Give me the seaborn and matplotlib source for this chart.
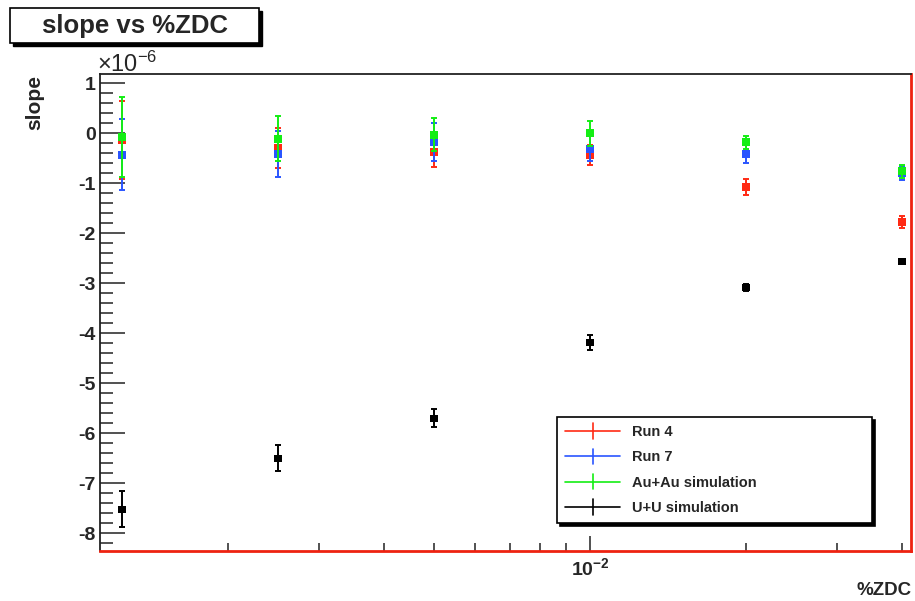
import matplotlib
matplotlib.use("Agg")
import numpy as np
import pandas as pd
import seaborn as sns
import matplotlib.pyplot as plt
from matplotlib.lines import Line2D
from matplotlib.legend_handler import HandlerBase
from matplotlib.patches import Rectangle
from matplotlib.ticker import (FixedLocator, FixedFormatter, LogLocator,
                               NullFormatter, MultipleLocator, FuncFormatter)

# ---------------- data (slope in units of 1e-6) ----------------
zdc = [0.00125, 0.0025, 0.005, 0.01, 0.02, 0.04]
series_names = ["Run 4", "Run 7", "Au+Au simulation", "U+U simulation"]
run4 = [-0.13, -0.30, -0.37, -0.43, -1.08, -1.78]
run4_err = [0.78, 0.40, 0.30, 0.20, 0.16, 0.12]
run7 = [-0.43, -0.42, -0.18, -0.31, -0.41, -0.80]
run7_err = [0.71, 0.46, 0.38, 0.25, 0.19, 0.13]
auau = [-0.07, -0.11, -0.03, 0.00, -0.18, -0.76]
auau_err = [0.80, 0.45, 0.33, 0.25, 0.13, 0.13]
uu = [-7.52, -6.50, -5.70, -4.18, -3.09, -2.56]
uu_err = [0.36, 0.26, 0.18, 0.15, 0.07, 0.05]
colors = ["#ff2a14", "#2a55ff", "#14ee14", "#000000"]
title_text = "slope vs %ZDC"
y_ticks = [-8, -7, -6, -5, -4, -3, -2, -1, 0, 1]
x_major = [0.01]
x_major_labels = ["10$^{-2}$"]

rows = []
for name, vals, errs in zip(series_names, [run4, run7, auau, uu],
                            [run4_err, run7_err, auau_err, uu_err]):
    for x, v, e in zip(zdc, vals, errs):
        rows.append({"series": name, "zdc": x, "slope": v, "err": e})
df = pd.DataFrame(rows)

# ---------------- style ----------------
sns.set_theme(style="white")
plt.rcParams["font.family"] = ["Liberation Sans", "DejaVu Sans"]
plt.rcParams["font.weight"] = "bold"
plt.rcParams["axes.unicode_minus"] = False
plt.rcParams["mathtext.default"] = "regular"

fig = plt.figure(figsize=(9.15, 6.01), dpi=100)
fig.patch.set_facecolor("white")
ax = fig.add_axes([0.1093, 0.0837, 0.8860, 0.7927])
ax.set_facecolor("white")

for i, (name, col) in enumerate(zip(series_names, colors)):
    sub = df[df["series"] == name]
    ax.errorbar(sub["zdc"], sub["slope"], yerr=sub["err"], fmt="none",
                ecolor=col, elinewidth=1.4, capsize=2, capthick=1.4,
                zorder=2 + i)
    sns.scatterplot(data=sub, x="zdc", y="slope", color=col, marker="s",
                    s=36 if i < 3 else 28, edgecolor="none", linewidth=0,
                    ax=ax, legend=False, zorder=2.5 + i)

ax.set_xscale("log")
ax.set_xlim(1.133e-3, 4.16e-2)
ax.set_ylim(-8.35, 1.18)

ax.xaxis.set_major_locator(FixedLocator(x_major))
ax.xaxis.set_major_formatter(FixedFormatter(x_major_labels))
ax.xaxis.set_minor_locator(LogLocator(base=10, subs=np.arange(2, 10)))
ax.xaxis.set_minor_formatter(NullFormatter())
ax.yaxis.set_major_locator(FixedLocator(y_ticks))
ax.yaxis.set_major_formatter(FuncFormatter(lambda v, p: "%d" % round(v)))
ax.yaxis.set_minor_locator(MultipleLocator(0.2))

ax.tick_params(axis="y", which="major", direction="in", length=18, width=1.2,
               labelsize=14, pad=3, color="#333333", left=True, right=False)
ax.tick_params(axis="y", which="minor", direction="in", length=9, width=1.2,
               color="#333333", left=True, right=False)
ax.tick_params(axis="x", which="major", direction="in", length=11, width=1.2,
               labelsize=14, pad=5, color="#333333", bottom=True, top=False)
ax.tick_params(axis="x", which="minor", direction="in", length=6, width=1.2,
               color="#333333", bottom=True, top=False)

for s in ["top", "left"]:
    ax.spines[s].set_color("#222222")
    ax.spines[s].set_linewidth(1.3)
for s in ["right", "bottom"]:
    ax.spines[s].set_color("#ee2211")
    ax.spines[s].set_linewidth(2.0)
    ax.spines[s].set_visible(True)

ax.set_ylabel("slope", fontsize=15, fontweight="bold")
ax.yaxis.set_label_coords(-0.0802, 0.9398)
ax.yaxis.label.set_va("center")
ax.yaxis.label.set_ha("center")
ax.set_xlabel("%ZDC", fontsize=13.5, fontweight="bold")
ax.xaxis.set_label_coords(1.0016, -0.0825)
ax.xaxis.label.set_ha("right")
ax.xaxis.label.set_va("center")

ax.text(-0.004, 1.021, "\u00d710$^{-6}$", transform=ax.transAxes,
        ha="left", va="center", fontsize=17, fontweight="normal")

# ---------------- legend ----------------
class CrossHandler(HandlerBase):
    def create_artists(self, legend, orig_handle, xdescent, ydescent,
                       width, height, fontsize, trans):
        c = orig_handle.get_color()
        y = height / 2 - ydescent
        xm = width / 2 - xdescent
        h = Line2D([-xdescent, width - xdescent], [y, y], color=c, lw=1.2,
                   transform=trans)
        v = Line2D([xm, xm], [y - height * 0.75, y + height * 0.75], color=c,
                   lw=1.2, transform=trans)
        return [h, v]

handles = [Line2D([], [], color=c) for c in colors]
leg = ax.legend(handles, series_names, handler_map={Line2D: CrossHandler()},
                loc="upper left", bbox_to_anchor=(0.5637, 0.0644, 0.3885, 0.2162),
                mode="expand", borderaxespad=0, fontsize=10.5,
                labelspacing=0.78, handlelength=3.8, handletextpad=0.8,
                borderpad=0.55, fancybox=False, framealpha=1,
                edgecolor="black",
                shadow={"ox": 2.2, "oy": -2.2, "facecolor": "black",
                        "edgecolor": "black", "alpha": 1})
leg.get_frame().set_linewidth(1.2)
leg.set_zorder(20)

# ---------------- title box ----------------
bx, by, bw, bh = 10 / 915, 1 - 42.7 / 601, 249 / 915, 34.4 / 601
fig.patches.append(Rectangle((bx + 3 / 915, by - 3 / 601), bw, bh,
                             transform=fig.transFigure, facecolor="black",
                             edgecolor="black", zorder=1))
fig.patches.append(Rectangle((bx, by), bw, bh, transform=fig.transFigure,
                             facecolor="white", edgecolor="black",
                             linewidth=1.2, zorder=2))
fig.text(bx + bw / 2, by + bh / 2, title_text, ha="center", va="center",
         fontsize=18.5, fontweight="bold", zorder=3)

fig.savefig("out.png", dpi=100)
